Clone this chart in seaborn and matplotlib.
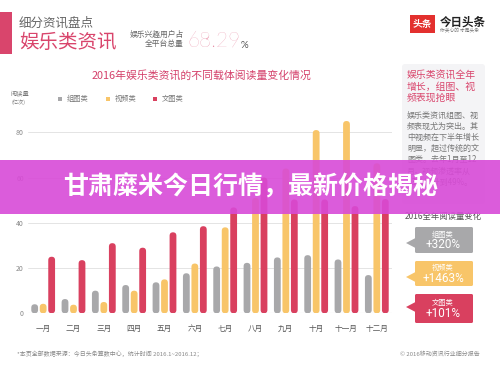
import matplotlib
matplotlib.use('Agg')
import matplotlib.pyplot as plt
import seaborn as sns
import pandas as pd
from matplotlib.patches import FancyBboxPatch, Rectangle, Polygon

# ---------------- data ----------------
months = ['一月', '二月', '三月', '四月', '五月', '六月',
          '七月', '八月', '九月', '十月', '十一月', '十二月']
series_names = ['组图类', '视频类', '文图类']
photo_vals = [4.0, 6.3, 10.0, 12.5, 13.7, 17.7, 20.7, 22.3, 24.7, 25.7, 23.8, 16.9]
video_vals = [4.2, 3.8, 5.0, 10.0, 15.0, 22.0, 38.0, 51.0, 64.0, 81.0, 85.0, 66.3]
text_vals = [25.0, 23.5, 31.0, 29.0, 35.8, 38.5, 46.8, 60.0, 50.3, 50.3, 47.4, 50.5]
series_colors = ['#a8a8aa', '#f8c569', '#d9405f']
yticks = [0, 20, 40, 60, 80]
growth_labels = ['+320%', '+1463%', '+101%']

sns.set_theme(style='white')
plt.rcParams['font.family'] = ['Noto Sans CJK SC', 'DejaVu Sans']

W, H = 500, 375
fig = plt.figure(figsize=(5, 3.75), dpi=100)
fig.patch.set_facecolor('white')

y0_px, ytop_px = 313.3, 109.7
ax = fig.add_axes([28 / W, 1 - y0_px / H, 364 / W, (y0_px - ytop_px) / H])

df = pd.DataFrame({
    '月份': months * 3,
    '类型': [n for n in series_names for _ in months],
    '阅读量': photo_vals + video_vals + text_vals,
})
sns.barplot(data=df, x='月份', y='阅读量', hue='类型', hue_order=series_names,
            palette=series_colors, width=0.84, gap=0.2, saturation=1,
            errorbar=None, legend=False, ax=ax)

ymax = 90
ax.set_ylim(0, ymax)
ax.set_xlim(-0.5, 11.5)
px_per_x = 364 / 12
px_per_y = (y0_px - ytop_px) / ymax
m_aspect = px_per_x / px_per_y

# rounded bars
for p in list(ax.patches):
    x, y, w, h = p.get_x(), p.get_y(), p.get_width(), p.get_height()
    fc = p.get_facecolor()
    p.remove()
    if h <= 0:
        continue
    fb = FancyBboxPatch((x, y), w, h,
                        boxstyle=f"round,pad=0,rounding_size={w / 2}",
                        mutation_aspect=m_aspect, facecolor=fc,
                        edgecolor='none', zorder=3)
    ax.add_patch(fb)

ax.set_xlabel('')
ax.set_ylabel('')
ax.set_yticks(yticks)
ax.set_yticklabels([str(v) for v in yticks], fontsize=5, color='#888888')
ax.tick_params(axis='y', length=0, pad=3)
ax.set_xticks(range(len(months)))
ax.set_xticklabels(months, fontsize=5.5, color='#555555', va='baseline')
ax.tick_params(axis='x', length=0, pad=13)
for s in ax.spines.values():
    s.set_visible(False)
ax.yaxis.grid(True, color='#e4e4e4', lw=0.7)
ax.set_axisbelow(True)
ax.axhline(0, color='#cccccc', lw=0.8, zorder=2)
ax.set_facecolor('none')

# ---------------- overlay in pixel coords ----------------
ov = fig.add_axes([0, 0, 1, 1], zorder=5)
ov.set_xlim(0, W)
ov.set_ylim(H, 0)
ov.axis('off')
ov.patch.set_alpha(0)

pink = '#d9456c'

# header
ov.add_patch(Rectangle((0, 12), 12, 42, color=pink, lw=0))
ov.text(19, 23, '细分资讯盘点', fontsize=9, color='#666666', va='center', ha='left')
ov.text(19, 42, '娱乐类资讯', fontsize=14, color=pink, va='center', ha='left')
ov.text(184, 35, '娱乐兴趣用户占', fontsize=5.6, color='#666666', va='center', ha='right')
ov.text(184, 44, '全平台总量', fontsize=5.6, color='#666666', va='center', ha='right')
ov.text(187, 41, '68.29', fontsize=15, color='#e6849f', va='center', ha='left',
        family=['Lato', 'DejaVu Sans'], fontweight='light')
ov.text(241, 45, '%', fontsize=7, color='#555555', va='center', ha='left',
        family=['Lato', 'DejaVu Sans'])

# logo
ov.add_patch(Rectangle((410, 15), 25, 18, color='#e3302e', lw=0))
ov.text(422.5, 24, '头条', fontsize=7, color='white', fontweight='bold',
        va='center', ha='center')
ov.text(440, 22, '今日头条', fontsize=8.3, color='#222222', fontweight='bold',
        va='center', ha='left')
ov.text(440, 31, '你关心的 才是头条', fontsize=3.4, color='#777777',
        va='center', ha='left')

# chart title + legend
ov.text(201, 75, '2016年娱乐类资讯的不同载体阅读量变化情况', fontsize=7.8,
        color='#d4406a', va='center', ha='center')
ov.text(10, 93, '阅读量', fontsize=4.5, color='#777777', va='center', ha='left')
ov.text(11, 102, '(亿次)', fontsize=3.8, color='#777777', va='center', ha='left')
leg_x = [58, 106, 153]
for lx, name, col in zip(leg_x, series_names, series_colors):
    ov.add_patch(Rectangle((lx, 97), 4, 4, color=col, lw=0))
    ov.text(lx + 9, 99, name, fontsize=5.2, color='#777777', va='center', ha='left')

# right panel
ov.add_patch(FancyBboxPatch((402, 64), 83, 140, boxstyle='round,pad=0,rounding_size=3',
                            facecolor='#f4f4f6', edgecolor='none'))
head_lines = ['娱乐类资讯全年', '增长，组图、视', '频表现抢眼']
for i, t in enumerate(head_lines):
    ov.text(407, 75 + 11.5 * i, t, fontsize=7.1, color=pink, va='center', ha='left')
body_lines = ['娱乐类资讯组图、视', '频表现尤为突出。其', '中视频在下半年增长',
              '明显，超过传统的文', '图类。去年1月至12', '月，视频渗透率从',
              '13%提升到49%。']
for i, t in enumerate(body_lines):
    ov.text(407, 115 + 11.2 * i, t, fontsize=5.8, color='#777777', va='center', ha='left')

ov.text(405, 216, '2016全年阅读量变化', fontsize=6, color='#555555', va='center', ha='left')

boxes = [(227, 253, 243), (261, 286, 277), (294, 323, 307)]
for (top, bot, tip), col, name, lab in zip(boxes, series_colors, series_names, growth_labels):
    ov.add_patch(FancyBboxPatch((415, top), 58, bot - top,
                                boxstyle='round,pad=0,rounding_size=1.5',
                                facecolor=col, edgecolor='none'))
    ov.add_patch(Polygon([(415.5, tip - 5), (406, tip), (415.5, tip + 5)],
                         closed=True, facecolor=col, edgecolor='none'))
    mid = (top + bot) / 2
    ov.text(443, mid - 5.5, name, fontsize=5.2, color='white', va='center', ha='center')
    ov.text(443, mid + 5, lab, fontsize=8.5, color='white', va='center', ha='center',
            family=['Roboto', 'DejaVu Sans'])

# footer
ov.text(17, 354, '*本页全部数据来源：今日头条算数中心，统计时间 2016.1~2016.12；',
        fontsize=4.3, color='#888888', va='center', ha='left')
ov.text(480, 354, '© 2016移动资讯行业细分报告', fontsize=4.3, color='#888888',
        va='center', ha='right')

# banner overlay
ov.add_patch(Rectangle((0, 160), W, 54, facecolor='#d84ad7', alpha=0.9, lw=0, zorder=10))
ov.text(251, 187, '甘肃糜米今日行情，最新价格揭秘', fontsize=18, color='white',
        fontweight='bold', va='center', ha='center', zorder=11)

fig.savefig('out.png', dpi=100)
